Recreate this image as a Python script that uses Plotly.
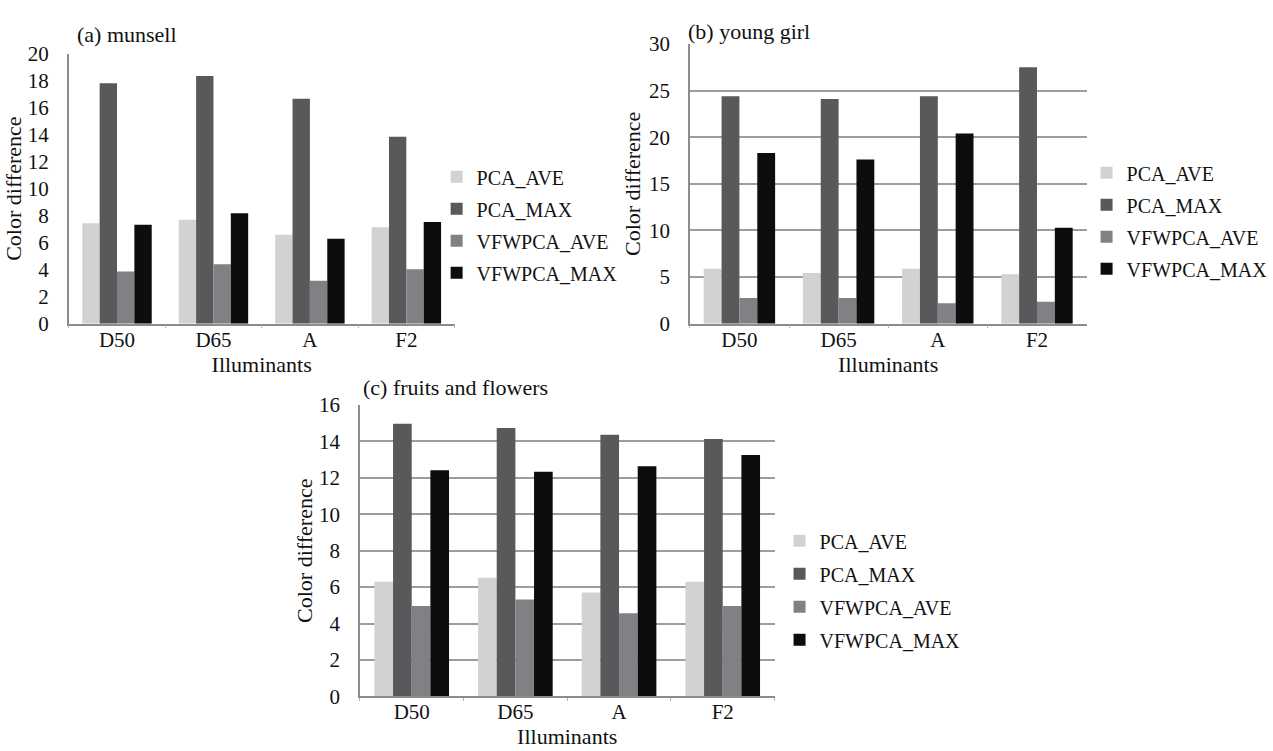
import plotly.graph_objects as go

W, H = 1273, 751

illuminants = ["D50", "D65", "A", "F2"]
series_names = ["PCA_AVE", "PCA_MAX", "VFWPCA_AVE", "VFWPCA_MAX"]
series_colors = ["#d1d2d3", "#58595b", "#808184", "#0e0d0e"]

# (a) munsell
munsell_pca_ave = [7.44, 7.70, 6.58, 7.15]
munsell_pca_max = [17.80, 18.35, 16.66, 13.85]
munsell_vfw_ave = [3.86, 4.41, 3.19, 4.03]
munsell_vfw_max = [7.32, 8.18, 6.29, 7.53]

# (b) young girl
girl_pca_ave = [5.90, 5.45, 5.90, 5.30]
girl_pca_max = [24.40, 24.10, 24.40, 27.50]
girl_vfw_ave = [2.77, 2.77, 2.19, 2.36]
girl_vfw_max = [18.30, 17.60, 20.40, 10.30]

# (c) fruits and flowers
fruit_pca_ave = [6.29, 6.52, 5.70, 6.29]
fruit_pca_max = [14.97, 14.74, 14.37, 14.14]
fruit_vfw_ave = [4.96, 5.32, 4.57, 4.96]
fruit_vfw_max = [12.42, 12.33, 12.64, 13.25]

panel_titles = ["(a) munsell", "(b) young girl", "(c) fruits and flowers"]
y_ranges = [20, 30, 16]
y_dticks = [2, 5, 2]

panels = [
    [munsell_pca_ave, munsell_pca_max, munsell_vfw_ave, munsell_vfw_max],
    [girl_pca_ave, girl_pca_max, girl_vfw_ave, girl_vfw_max],
    [fruit_pca_ave, fruit_pca_max, fruit_vfw_ave, fruit_vfw_max],
]

FONT = "Liberation Serif"
TXT = "#111111"

# pixel layout: (left, right, top, bottom) of each plot area
boxes = [(69, 456, 43, 322), (692, 1090, 33, 322), (361, 777, 406, 707)]
legend_pos = [(438, 150), (1090, 146), (782, 526)]
legend_gap = [3, 3, 4]
title_pos = [(75, 23), (688, 20), (362, 388)]
ytitle_standoff = [0, 2, 0]

fig = go.Figure()
for p, values in enumerate(panels):
    suffix = "" if p == 0 else str(p + 1)
    leg = "legend" if p == 0 else f"legend{p + 1}"
    for s, name in enumerate(series_names):
        fig.add_trace(go.Bar(
            x=illuminants, y=values[s], name=name,
            marker=dict(color=series_colors[s], line=dict(width=0)),
            xaxis="x" + suffix, yaxis="y" + suffix,
            legend=leg, legendgroup=f"{p}_{s}",
        ))

layout = dict(
    width=W, height=H,
    margin=dict(l=0, r=0, t=0, b=0),
    paper_bgcolor="white", plot_bgcolor="white",
    barmode="group", bargap=0.28, bargroupgap=0,
    font=dict(family=FONT, size=20, color=TXT),
    annotations=[],
)

for p in range(3):
    l, r, t, b = boxes[p]
    suffix = "" if p == 0 else str(p + 1)
    layout["xaxis" + suffix] = dict(
        domain=[l / W, r / W], anchor="y" + suffix,
        showline=True, linecolor="#8c8c8c", linewidth=1.5,
        ticks="outside", tickson="boundaries", ticklen=3, tickcolor="#b5b5b5",
        ticklabelstandoff=-4,
        tickfont=dict(family=FONT, size=21, color=TXT),
        title=dict(text="Illuminants", font=dict(family=FONT, size=22, color=TXT), standoff=0),
        showgrid=False, fixedrange=True,
    )
    layout["yaxis" + suffix] = dict(
        domain=[1 - b / H, 1 - t / H], anchor="x" + suffix,
        range=[0, y_ranges[p]], dtick=y_dticks[p],
        showline=True, linecolor="#8c8c8c", linewidth=1.5,
        showgrid=(p != 0), gridcolor="#9d9d9d", gridwidth=1.5,
        zeroline=False, ticks="", ticklabelstandoff=14,
        tickfont=dict(family=FONT, size=21, color=TXT),
        title=dict(text="Color difference", font=dict(family=FONT, size=22, color=TXT),
                   standoff=ytitle_standoff[p]),
        fixedrange=True,
    )
    lx, ly = legend_pos[p]
    layout["legend" if p == 0 else f"legend{p + 1}"] = dict(
        x=lx / W, y=1 - ly / H, xanchor="left", yanchor="top",
        traceorder="grouped", tracegroupgap=legend_gap[p],
        font=dict(family=FONT, size=20, color=TXT),
        bgcolor="rgba(0,0,0,0)", borderwidth=0,
    )
    tx, ty = title_pos[p]
    layout["annotations"].append(dict(
        text=panel_titles[p], xref="paper", yref="paper",
        x=tx / W, y=1 - ty / H, xanchor="left", yanchor="middle",
        showarrow=False, font=dict(family=FONT, size=22, color=TXT),
    ))

fig.update_layout(**layout)
fig.write_html(
    "out.html",
    config={"displayModeBar": False},
    post_script="document.body.style.margin='0px';document.body.style.overflow='hidden';",
)
